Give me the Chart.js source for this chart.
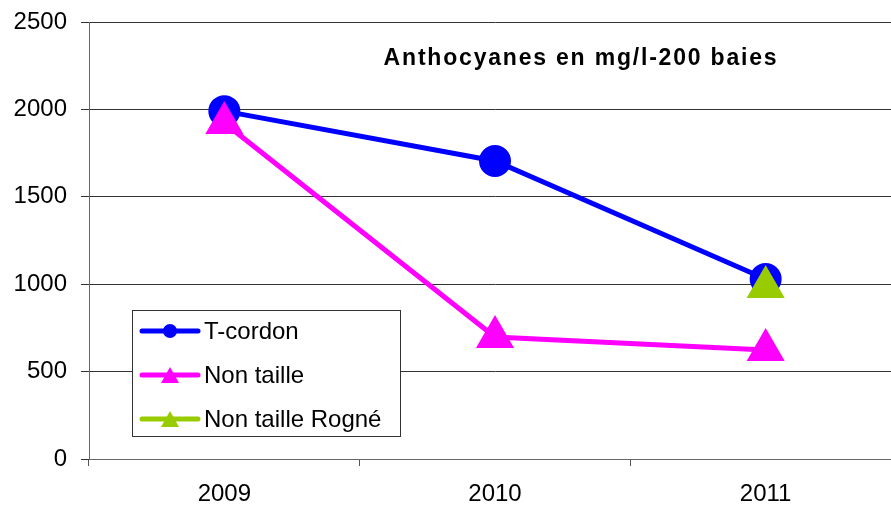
<!DOCTYPE html>
<html>
<head>
<meta charset="utf-8">
<script src="https://cdn.jsdelivr.net/npm/chart.js@4"></script>
<style>
  html, body { margin: 0; padding: 0; background: #fff; overflow: hidden; }
</style>
</head>
<body>
<canvas id="chart" width="923" height="507"></canvas>
<script>
const years = ['2009', '2010', '2011']
const tCordon = [1990, 1705, 1030]
const nonTaille = [1922, 698, 624]
const nonTailleRogne = [null, null, 984]
const yTicks = [0, 500, 1000, 1500, 2000, 2500]
const chartTitle = 'Anthocyanes en mg/l-200 baies'

const FONT = 'Arial, "Liberation Sans", sans-serif'

// titre dans la zone de tracé
const titlePlugin = {
  id: 'innerTitle',
  afterDraw(chart) {
    const ctx = chart.ctx
    ctx.save()
    ctx.font = 'bold 23px ' + FONT
    ctx.fillStyle = '#000'
    ctx.textAlign = 'center'
    ctx.textBaseline = 'middle'
    if ('letterSpacing' in ctx) ctx.letterSpacing = '1.8px'
    ctx.fillText(chartTitle, 581, 59)
    ctx.restore()
  }
}

// légende encadrée, dessinée à partir des datasets
const boxLegend = {
  id: 'boxLegend',
  afterDraw(chart) {
    const ctx = chart.ctx
    const x = 132, y = 310, w = 268, h = 126
    ctx.save()
    ctx.fillStyle = '#fff'
    ctx.fillRect(x, y, w, h)
    ctx.strokeStyle = '#333'
    ctx.lineWidth = 1
    ctx.strokeRect(x + 0.5, y + 0.5, w, h)
    chart.data.datasets.forEach((ds, i) => {
      const cy = y + 21 + i * 44
      ctx.strokeStyle = ds.borderColor
      ctx.lineWidth = 5
      ctx.lineCap = 'round'
      ctx.beginPath()
      ctx.moveTo(142, cy)
      ctx.lineTo(198, cy)
      ctx.stroke()
      ctx.fillStyle = ds.borderColor
      ctx.beginPath()
      if (ds.pointStyle === 'circle') {
        ctx.arc(170, cy, 7, 0, Math.PI * 2)
      } else {
        ctx.moveTo(170, cy - 8)
        ctx.lineTo(179, cy + 8)
        ctx.lineTo(161, cy + 8)
        ctx.closePath()
      }
      ctx.fill()
      ctx.fillStyle = '#000'
      ctx.font = '24px ' + FONT
      ctx.textAlign = 'left'
      ctx.textBaseline = 'middle'
      ctx.fillText(ds.label, 204, cy + 1)
    })
    ctx.restore()
  }
}

new Chart(document.getElementById('chart'), {
  type: 'line',
  data: {
    labels: years,
    datasets: [
      {
        label: 'T-cordon',
        data: tCordon,
        borderColor: '#0000FF',
        backgroundColor: '#0000FF',
        borderWidth: 5,
        pointStyle: 'circle',
        pointRadius: 13.5,
        pointHoverRadius: 13.5,
        order: 2
      },
      {
        label: 'Non taille',
        data: nonTaille,
        borderColor: '#FF00FF',
        backgroundColor: '#FF00FF',
        borderWidth: 5,
        pointStyle: 'triangle',
        pointRadius: 17,
        pointHoverRadius: 17,
        order: 1
      },
      {
        label: 'Non taille Rogné',
        data: nonTailleRogne,
        borderColor: '#99CC00',
        backgroundColor: '#99CC00',
        borderWidth: 5,
        pointStyle: 'triangle',
        pointRadius: 17,
        pointHoverRadius: 17,
        order: 0
      }
    ]
  },
  options: {
    responsive: false,
    animation: false,
    layout: { padding: { top: 22, right: 2, left: 0, bottom: 0 } },
    plugins: {
      legend: { display: false },
      tooltip: { enabled: false }
    },
    scales: {
      x: {
        offset: true,
        grid: {
          offset: true,
          drawOnChartArea: false,
          drawTicks: true,
          tickLength: 7,
          color: '#555'
        },
        border: { color: '#666', width: 1 },
        ticks: { color: '#000', font: { family: FONT, size: 24 }, padding: 14 },
        afterFit(scale) {
          scale.height = 48
          scale.paddingLeft = 0
          scale.paddingRight = 0
        }
      },
      y: {
        min: 0,
        max: 2500,
        afterBuildTicks(scale) { scale.ticks = yTicks.map(v => ({ value: v })) },
        grid: {
          color: '#333',
          tickLength: 8,
          drawTicks: true
        },
        border: { color: '#666', width: 1 },
        ticks: {
          color: '#000',
          font: { family: FONT, size: 24 },
          padding: 14,
          callback: v => String(v)
        },
        afterFit(scale) {
          scale.width = 89
          scale.paddingTop = 0
          scale.paddingBottom = 0
        }
      }
    }
  },
  plugins: [titlePlugin, boxLegend]
})
</script>
</body>
</html>
